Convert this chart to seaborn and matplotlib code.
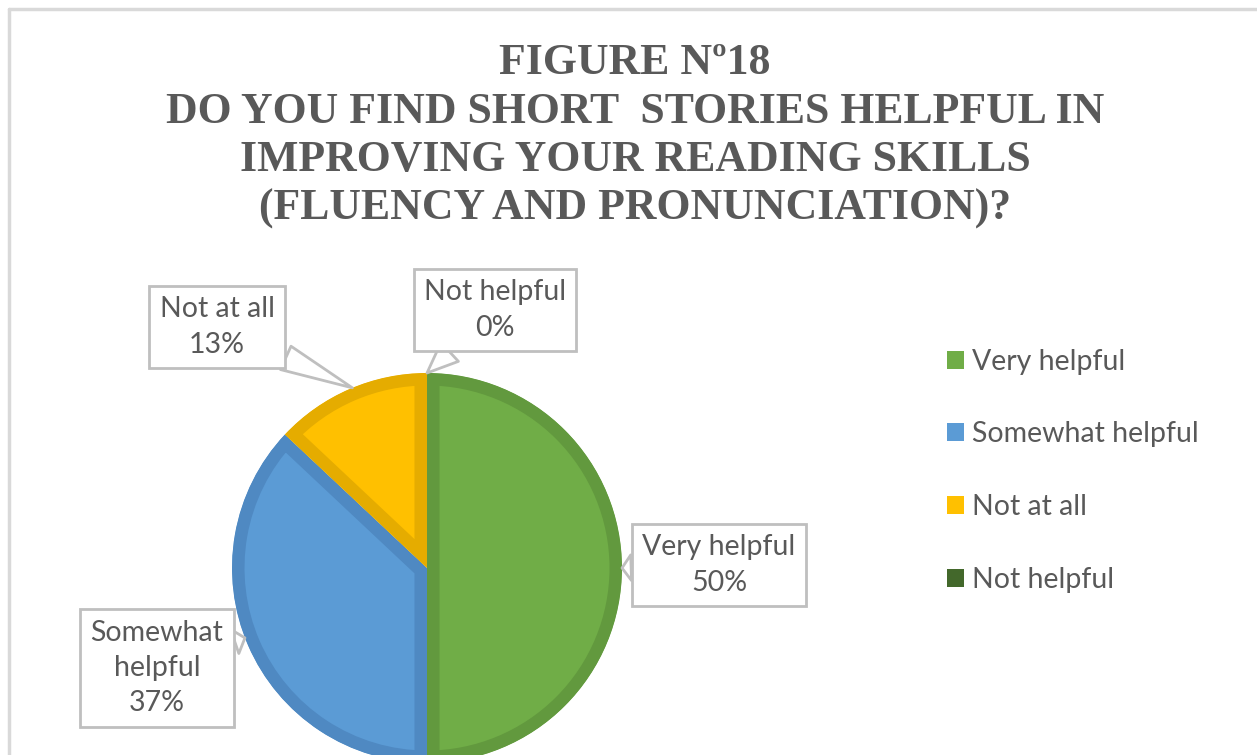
import matplotlib
matplotlib.use("Agg")
import matplotlib.pyplot as plt
from matplotlib.lines import Line2D
from matplotlib.patches import Patch
import numpy as np
import seaborn as sns

sns.set_theme(style="white")
plt.rcParams["font.family"] = ["Lato", "DejaVu Sans"]

# Survey answers and their shares (%)
categories = ["Very helpful", "Somewhat helpful", "Not at all", "Not helpful"]
shares = [50, 37, 13, 0]
fill_colors = ["#70AD47", "#5B9BD5", "#FFC000", "#43682B"]
edge_colors = ["#62993E", "#4F89C2", "#E5AC00", "#375623"]
title_lines = [
    "FIGURE Nº18",
    "DO YOU FIND SHORT  STORIES HELPFUL IN",
    "IMPROVING YOUR READING SKILLS",
    "(FLUENCY AND PRONUNCIATION)?",
]

W, H = 1257, 755
fig = plt.figure(figsize=(W / 100, H / 100), dpi=100)
fig.patch.set_facecolor("white")

# chart frame (top and left edges visible)
frame_kw = dict(color="#D9D9D9", lw=2.5, transform=fig.transFigure)
fig.add_artist(Line2D([9 / W, 1.0], [1 - 9 / H, 1 - 9 / H], **frame_kw))
fig.add_artist(Line2D([9 / W, 9 / W], [0, 1 - 9 / H], **frame_kw))

# title
fig.text(635 / W, 1 - 136 / H, "\n".join(title_lines), ha="center", va="center",
         fontsize=31.5, fontweight="bold", family="Liberation Serif",
         color="#595959", linespacing=1.27)

# pie axes: centre at (427, 568) px, radius 195 px
cx, cy, r = 427, 568, 195
ax = fig.add_axes([(cx - r) / W, (H - cy - r) / H, 2 * r / W, 2 * r / H])

wedges, _ = ax.pie(shares, colors=fill_colors, startangle=90, counterclock=False,
                   radius=1.0, center=(0, 0), frame=False,
                   wedgeprops=dict(linewidth=18, edgecolor="none"))
for w, ec, s in zip(wedges, edge_colors, shares):
    if s == 0:
        w.set_linewidth(0)
        continue
    # inner darker rim: stroke clipped to the wedge itself
    w.set_edgecolor(ec)
    w.set_joinstyle("miter")
    w.set_clip_on(True)
    w.set_clip_path(w)
ax.set_xlim(-1, 1)
ax.set_ylim(-1, 1)
ax.axis("off")

# callout labels
label_text = ["Very helpful\n50%", "Somewhat\nhelpful\n37%", "Not at all\n13%", "Not helpful\n0%"]
label_pos = [(719, 565), (157, 668), (217, 327), (495, 310)]
tail_angle = [0, 201, 112.5, 90]
for txt, (tx, ty), ang in zip(label_text, label_pos, tail_angle):
    px, py = np.cos(np.radians(ang)), np.sin(np.radians(ang))
    ax.annotate(txt, xy=(px, py), xycoords="data",
                xytext=(tx, H - ty), textcoords="figure pixels",
                ha="center", va="center", fontsize=20.5, color="#595959",
                linespacing=1.45, annotation_clip=False,
                bbox=dict(boxstyle="square,pad=0.36", fc="white", ec="#BFBFBF", lw=2),
                arrowprops=dict(arrowstyle="wedge,tail_width=0.9,shrink_factor=0.5",
                                fc="white", ec="#BFBFBF", lw=2, shrinkA=0, shrinkB=0))

# legend
handles = [Patch(facecolor=c, edgecolor="none") for c in fill_colors]
fig.legend(handles, categories, loc="upper left",
           bbox_to_anchor=(921 / W, 1 - 323 / H), frameon=False,
           fontsize=20.5, labelcolor="#595959", handlelength=0.6, handleheight=0.6,
           handletextpad=0.3, labelspacing=1.64)

fig.savefig("out.png", dpi=100, facecolor="white")
